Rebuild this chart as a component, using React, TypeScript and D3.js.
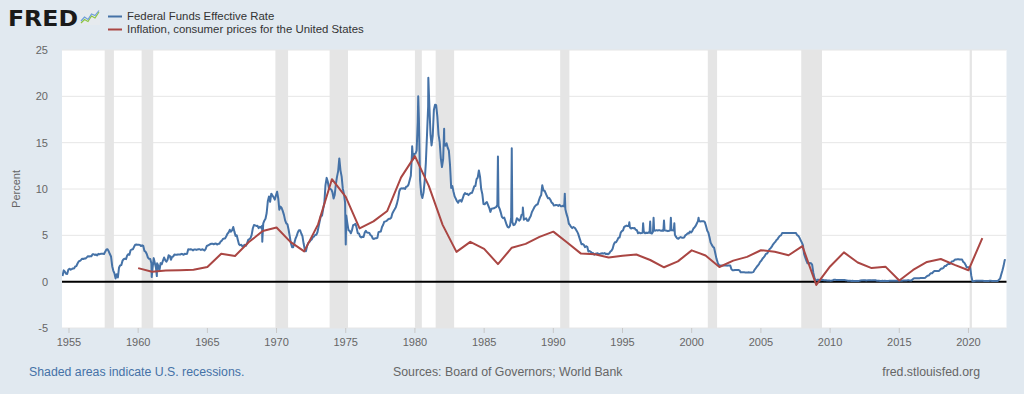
import React from 'react';
import * as d3 from 'd3';

// ---------- DATA ----------
// Federal Funds Effective Rate, monthly averages starting July 1954
const ffStart = { year: 1954, month: 6 };
const ff1950s = [
  0.6, 1.22, 1.07, 0.85, 0.83, 1.28,
  1.39, 1.29, 1.35, 1.43, 1.43, 1.64, 1.68, 1.96, 2.18, 2.24, 2.35, 2.48,
  2.45, 2.5, 2.5, 2.62, 2.75, 2.71, 2.75, 2.73, 2.95, 2.96, 2.88, 2.94,
  2.84, 3.0, 2.96, 3.0, 3.0, 3.0, 2.99, 3.24, 3.47, 3.5, 3.28, 2.98,
  2.72, 1.67, 1.2, 0.9, 0.35, 0.8, 0.45, 1.53, 1.76, 1.8, 2.27, 2.42,
  2.48, 2.43, 2.8, 2.96, 2.9, 3.39, 3.47, 3.5, 3.76, 3.98, 4.0, 3.99,
];
const ff1960s = [
  3.99, 3.97, 3.84, 3.92, 3.85, 3.32, 3.23, 2.98, 2.6, 2.47, 2.44, 1.98,
  1.45, 2.54, 2.02, 1.49, 1.98, 1.73, 1.17, 2.0, 1.88, 2.26, 2.61, 2.33,
  2.15, 2.37, 2.85, 2.78, 2.36, 2.68, 2.71, 2.93, 2.9, 2.9, 2.94, 2.93,
  2.92, 3.0, 2.98, 2.9, 3.0, 2.99, 3.02, 3.49, 3.48, 3.5, 3.48, 3.38,
  3.48, 3.48, 3.43, 3.47, 3.5, 3.5, 3.42, 3.5, 3.45, 3.36, 3.52, 3.85,
  3.9, 3.98, 4.04, 4.09, 4.1, 4.04, 4.09, 4.12, 4.01, 4.08, 4.1, 4.32,
  4.42, 4.6, 4.65, 4.67, 4.9, 5.17, 5.3, 5.6, 5.4, 5.53, 5.9, 5.4,
  4.94, 5.0, 4.53, 4.05, 3.94, 3.98, 3.79, 3.9, 3.99, 3.88, 4.13, 4.51,
  4.6, 4.71, 5.05, 5.76, 6.11, 6.07, 6.02, 6.03, 5.78, 5.91, 5.82, 6.02,
  6.3, 6.61, 6.79, 7.41, 8.67, 9.2, 8.61, 9.5, 9.3, 9.1, 8.85, 9.3,
];
const ff1970s = [
  9.7, 8.98, 7.76, 8.1, 7.95, 7.61, 7.21, 6.61, 6.29, 6.2, 5.6, 4.9,
  4.14, 3.72, 3.71, 4.16, 4.63, 4.91, 5.31, 5.56, 5.55, 5.2, 4.91, 4.14,
  3.5, 3.29, 3.83, 4.17, 4.27, 4.46, 4.55, 4.8, 4.87, 5.04, 5.06, 5.33,
  5.94, 6.58, 7.09, 7.12, 7.84, 8.49, 10.4, 11.2, 10.78, 10.01, 10.03, 9.95,
  9.65, 8.97, 9.35, 10.51, 11.31, 11.93, 13.3, 12.01, 11.34, 10.06, 9.45, 8.53,
  7.13, 6.24, 5.54, 5.49, 5.22, 5.55, 6.1, 6.14, 6.24, 5.82, 5.22, 5.2,
  4.87, 4.77, 4.84, 4.82, 5.29, 5.48, 5.31, 5.29, 5.25, 5.02, 4.95, 4.65,
  4.61, 4.68, 4.69, 4.73, 5.35, 5.39, 5.42, 5.9, 6.14, 6.47, 6.51, 6.56,
  6.7, 6.78, 6.79, 6.89, 7.36, 7.6, 7.81, 8.04, 8.45, 8.96, 9.76, 10.03,
  10.07, 10.06, 10.09, 10.01, 10.24, 10.29, 10.47, 10.94, 11.43, 13.77, 13.18, 13.78,
];
const ff1980s = [
  13.82, 14.13, 17.19, 17.61, 10.98, 9.47, 9.03, 9.61, 10.87, 12.81, 15.85, 18.9,
  19.08, 15.93, 14.7, 15.72, 18.52, 19.1, 19.04, 17.82, 15.87, 15.08, 13.31, 12.37,
  13.22, 14.78, 14.68, 14.94, 14.45, 14.15, 12.59, 10.12, 10.31, 9.71, 9.2, 8.95,
  8.68, 8.51, 8.77, 8.8, 8.63, 8.98, 9.37, 9.56, 9.45, 9.48, 9.34, 9.47,
  9.56, 9.59, 9.91, 10.29, 10.32, 11.06, 11.23, 12.0, 11.3, 9.99, 9.43, 8.38,
  8.35, 8.5, 8.58, 8.27, 7.97, 7.53, 7.88, 7.9, 7.92, 7.99, 8.05, 8.27,
  8.14, 7.86, 7.48, 6.99, 6.85, 6.92, 6.56, 6.17, 5.89, 5.85, 6.04, 6.91,
  6.43, 6.1, 6.13, 6.37, 6.85, 6.73, 6.58, 6.73, 7.22, 7.29, 6.69, 6.77,
  6.83, 6.58, 6.58, 6.87, 7.09, 7.51, 7.75, 8.01, 8.19, 8.3, 8.35, 8.76,
  9.12, 9.36, 10.4, 9.84, 9.81, 9.53, 9.24, 8.99, 9.02, 8.84, 8.55, 8.45,
];
const ff1990s = [
  8.23, 8.24, 8.28, 8.26, 8.18, 8.29, 8.15, 8.13, 8.2, 8.11, 7.81, 7.31,
  6.91, 6.25, 6.12, 5.91, 5.78, 5.9, 5.82, 5.66, 5.45, 5.21, 4.81, 4.43,
  4.03, 4.06, 3.98, 3.73, 3.82, 3.76, 3.25, 3.3, 3.22, 3.1, 3.09, 2.92,
  3.02, 3.03, 3.07, 2.96, 3.0, 3.04, 3.06, 3.03, 3.09, 2.99, 3.02, 2.96,
  3.05, 3.25, 3.34, 3.56, 4.01, 4.25, 4.26, 4.47, 4.73, 4.76, 5.29, 5.45,
  5.53, 5.92, 5.98, 6.05, 6.01, 6.0, 5.85, 5.74, 5.8, 5.76, 5.8, 5.6,
  5.56, 5.22, 5.31, 5.22, 5.24, 5.27, 5.4, 5.22, 5.3, 5.24, 5.31, 5.29,
  5.25, 5.19, 5.39, 5.51, 5.5, 5.56, 5.52, 5.54, 5.54, 5.5, 5.52, 5.5,
  5.56, 5.51, 5.49, 5.45, 5.49, 5.56, 5.54, 5.55, 5.51, 5.07, 4.83, 4.68,
  4.63, 4.76, 4.81, 4.74, 4.74, 4.76, 4.99, 5.07, 5.22, 5.2, 5.42, 5.3,
];
const ff2000s = [
  5.45, 5.73, 5.85, 6.02, 6.27, 6.53, 6.54, 6.5, 6.52, 6.51, 6.51, 6.4,
  5.98, 5.49, 5.31, 4.8, 4.21, 3.97, 3.77, 3.65, 3.07, 2.49, 2.09, 1.82,
  1.73, 1.74, 1.73, 1.75, 1.75, 1.75, 1.73, 1.74, 1.75, 1.75, 1.34, 1.24,
  1.24, 1.26, 1.25, 1.26, 1.26, 1.22, 1.01, 1.03, 1.01, 1.01, 1.0, 0.98,
  1.0, 1.01, 1.0, 1.0, 1.0, 1.03, 1.26, 1.43, 1.61, 1.76, 1.93, 2.16,
  2.28, 2.5, 2.63, 2.79, 3.0, 3.04, 3.26, 3.5, 3.62, 3.78, 4.0, 4.16,
  4.29, 4.49, 4.59, 4.79, 4.94, 4.99, 5.24, 5.25, 5.25, 5.25, 5.25, 5.24,
  5.25, 5.26, 5.26, 5.25, 5.25, 5.25, 5.26, 5.02, 4.94, 4.76, 4.49, 4.24,
  3.94, 2.98, 2.61, 2.28, 1.98, 2.0, 2.01, 2.0, 1.81, 0.97, 0.39, 0.16,
  0.15, 0.22, 0.18, 0.15, 0.18, 0.21, 0.16, 0.16, 0.15, 0.12, 0.12, 0.12,
];
const ff2010s = [
  0.11, 0.13, 0.16, 0.2, 0.2, 0.18, 0.18, 0.19, 0.19, 0.19, 0.19, 0.18,
  0.17, 0.16, 0.14, 0.1, 0.09, 0.09, 0.07, 0.1, 0.08, 0.07, 0.08, 0.07,
  0.08, 0.1, 0.13, 0.14, 0.16, 0.16, 0.16, 0.13, 0.14, 0.16, 0.16, 0.16,
  0.14, 0.15, 0.14, 0.15, 0.11, 0.09, 0.09, 0.08, 0.08, 0.09, 0.08, 0.09,
  0.07, 0.07, 0.08, 0.09, 0.09, 0.1, 0.09, 0.09, 0.09, 0.09, 0.09, 0.12,
  0.11, 0.11, 0.11, 0.12, 0.12, 0.13, 0.13, 0.14, 0.14, 0.12, 0.12, 0.24,
  0.34, 0.38, 0.36, 0.37, 0.37, 0.38, 0.39, 0.4, 0.4, 0.4, 0.41, 0.54,
  0.65, 0.66, 0.79, 0.9, 0.91, 1.04, 1.15, 1.16, 1.15, 1.15, 1.16, 1.3,
  1.41, 1.42, 1.51, 1.69, 1.7, 1.82, 1.91, 1.91, 1.95, 2.19, 2.2, 2.27,
  2.4, 2.4, 2.41, 2.42, 2.39, 2.38, 2.4, 2.13, 2.04, 1.83, 1.55, 1.55,
];
const ff2020s = [
  1.55, 1.58, 0.65, 0.05, 0.05, 0.08, 0.09, 0.1, 0.09, 0.09, 0.09, 0.09,
  0.09, 0.08, 0.07, 0.07, 0.06, 0.08, 0.1, 0.09, 0.08, 0.08, 0.08, 0.08,
  0.08, 0.08, 0.2, 0.33, 0.77, 1.21, 1.68, 2.33,
];
// Daily spikes / dips visible in the chart
const ffSpikes: [string, number][] = [
  ['1960-12-24', 0.5], ['1961-05-08', 0.6], ['1968-12-20', 4.3],
  ['1975-01-01', 4.0], ['1979-10-20', 14.6], ['1980-03-28', 20.0],
  ['1980-12-20', 22.0], ['1982-02-10', 16.5], ['1985-12-31', 13.5],
  ['1986-12-31', 14.4], ['1987-10-20', 8.0], ['1990-10-31', 9.5],
  ['1995-06-30', 6.4], ['1996-06-28', 6.3], ['1996-12-31', 6.5],
  ['1997-03-31', 6.9], ['1997-12-31', 6.6], ['1998-06-30', 6.9],
  ['1998-09-30', 6.3], ['2000-06-30', 6.9], ['2022-09-10', 2.33],
];

// Inflation, consumer prices for the United States (annual %, World Bank)
const inflationStartYear = 1960;
const inflation = [
  1.458, 1.071, 1.199, 1.24, 1.279, 1.585, 3.015, 2.773, 4.272, 5.462,
  5.838, 4.293, 3.272, 6.178, 11.055, 9.143, 5.745, 6.502, 7.631, 11.254,
  13.549, 10.335, 6.131, 3.212, 4.3, 3.546, 1.898, 3.665, 4.079, 4.827,
  5.398, 4.235, 3.029, 2.952, 2.607, 2.805, 2.931, 2.338, 1.552, 2.188,
  3.377, 2.826, 1.586, 2.27, 2.677, 3.393, 3.226, 2.853, 3.839, -0.356,
  1.64, 3.157, 2.069, 1.465, 1.622, 0.119, 1.262, 2.13, 2.443, 1.812,
  1.234, 4.698,
];

const recessions: [string, string][] = [
  ['1957-08-01', '1958-04-01'], ['1960-04-01', '1961-02-01'],
  ['1969-12-01', '1970-11-01'], ['1973-11-01', '1975-03-01'],
  ['1980-01-01', '1980-07-01'], ['1981-07-01', '1982-11-01'],
  ['1990-07-01', '1991-03-01'], ['2001-03-01', '2001-11-01'],
  ['2007-12-01', '2009-06-01'], ['2020-02-01', '2020-04-01'],
];

const yTicks = [-5, 0, 5, 10, 15, 20, 25];
const xTickYears = [1955, 1960, 1965, 1970, 1975, 1980, 1985, 1990, 1995, 2000, 2005, 2010, 2015, 2020];

const seriesNames = ['Federal Funds Effective Rate', 'Inflation, consumer prices for the United States'];
const seriesColors = ['#4572a7', '#aa4643'];

// ---------- CHART ----------
const W = 1024, H = 394;
const PL = 62, PR = 1006.5, PT = 50, PB = 328;
const FONT = "'Liberation Sans', Arial, Helvetica, sans-serif";

function parse(s: string) {
  const [yy, mm, dd] = s.split('-').map(Number);
  return new Date(yy, mm - 1, dd);
}

export default function App() {
  const x = d3.scaleTime().domain([new Date(1954, 6, 1), new Date(2022, 9, 1)]).range([PL, PR]);
  const y = d3.scaleLinear().domain([-5, 25]).range([PB, PT]);

  const monthly = [...ff1950s, ...ff1960s, ...ff1970s, ...ff1980s, ...ff1990s, ...ff2000s, ...ff2010s, ...ff2020s];
  const ffPts: { d: Date; v: number }[] = monthly.map((v, i) => ({ d: new Date(ffStart.year, ffStart.month + i, 15), v }));
  ffSpikes.forEach(([s, v]) => ffPts.push({ d: parse(s), v }));
  ffPts.sort((a, b) => +a.d - +b.d);

  const infPts = inflation.map((v, i) => ({ d: new Date(inflationStartYear + i, 0, 1), v }));

  const line = d3.line<{ d: Date; v: number }>().x(p => x(p.d)).y(p => y(p.v));

  return (
    <svg width={W} height={H} style={{ position: 'absolute', left: 0, top: 0, display: 'block' }} fontFamily={FONT}>
      <defs>
        <clipPath id="plotclip">
          <rect x={PL} y={PT - 5} width={PR - PL} height={PB - PT + 5} />
        </clipPath>
      </defs>
      <rect x={0} y={0} width={W} height={H} fill="#e1e9f0" />
      <rect x={PL} y={PT} width={PR - PL} height={PB - PT} fill="#ffffff" />

      {yTicks.map(t => (
        <line key={'g' + t} x1={PL} x2={PR} y1={y(t)} y2={y(t)} stroke="#e6e6e6" strokeWidth={1} />
      ))}

      {recessions.map(([a, b], i) => (
        <rect key={'r' + i} x={x(parse(a))} y={PT} width={x(parse(b)) - x(parse(a))} height={PB - PT} fill="#e5e5e5" />
      ))}

      <line x1={PL} x2={PR} y1={y(0)} y2={y(0)} stroke="#000000" strokeWidth={2} />

      <g clipPath="url(#plotclip)">
        <path d={line(ffPts) || ''} fill="none" stroke={seriesColors[0]} strokeWidth={2} strokeLinejoin="round" />
        <path d={line(infPts) || ''} fill="none" stroke={seriesColors[1]} strokeWidth={2} strokeLinejoin="round" />
      </g>

      {yTicks.map(t => (
        <text key={'yl' + t} x={48} y={y(t)} dy="0.35em" textAnchor="end" fontSize={11} fill="#666666">{t}</text>
      ))}
      <text transform={`translate(20,${(PT + PB) / 2}) rotate(-90)`} textAnchor="middle" fontSize={11} fill="#666666">Percent</text>

      {xTickYears.map(yr => {
        const px = x(new Date(yr, 0, 1));
        return (
          <g key={'xt' + yr}>
            <line x1={px} x2={px} y1={PB} y2={PB + 5} stroke="#c8c8c8" strokeWidth={1} />
            <text x={px} y={346} textAnchor="middle" fontSize={11} fill="#666666">{yr}</text>
          </g>
        );
      })}

      {/* FRED logo */}
      <text x={8} y={25.5} fontSize={21} fontWeight={900} fill="#1a1a1a" textLength={70} lengthAdjust="spacingAndGlyphs" fontFamily="'DejaVu Sans', 'Liberation Sans', sans-serif">FRED</text>
      <rect x={80} y={10} width={20} height={15} fill="#e6eaee" />
      <polyline points="81,23 84.5,19.5 88,21.5 91.5,16 95,18 99,12" fill="none" stroke="#8dc63f" strokeWidth={1.2} />
      <polyline points="81,21 84.5,17 88,19.5 91.5,14 95,15.5 99,10.5" fill="none" stroke="#6f9fd8" strokeWidth={1.2} />

      {/* Legend */}
      {seriesNames.map((n, i) => (
        <g key={'lg' + i}>
          <line x1={108} x2={122} y1={16.5 + i * 13} y2={16.5 + i * 13} stroke={seriesColors[i]} strokeWidth={2} />
          <text x={127} y={16.5 + i * 13} dy="0.35em" fontSize={11.4} fill="#333333">{n}</text>
        </g>
      ))}

      {/* Footer */}
      <text x={29} y={376} fontSize={12.3} fill="#4572a7">Shaded areas indicate U.S. recessions.</text>
      <text x={393} y={376} fontSize={12.3} fill="#666666">Sources: Board of Governors; World Bank</text>
      <text x={980} y={376} fontSize={12.3} fill="#666666" textAnchor="end">fred.stlouisfed.org</text>
    </svg>
  );
}
